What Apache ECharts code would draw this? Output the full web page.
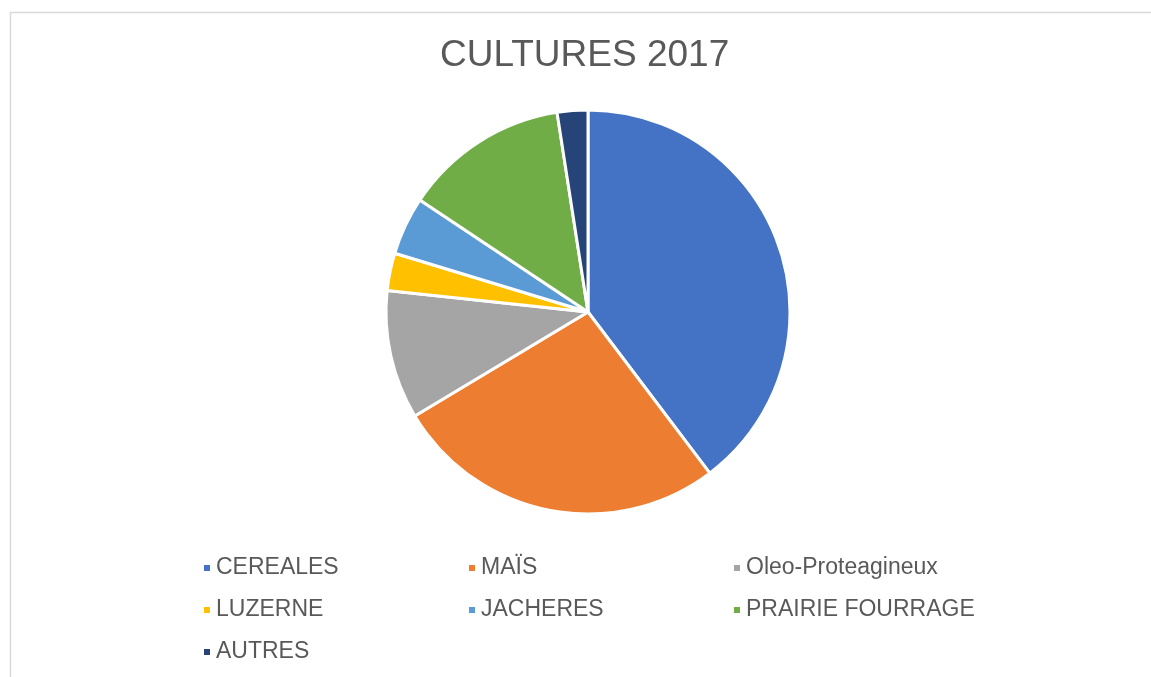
<!DOCTYPE html>
<html>
<head>
<meta charset="utf-8">
<title>CULTURES 2017</title>
<script src="https://cdn.jsdelivr.net/npm/echarts@6/dist/echarts.min.js"></script>
<style>
  html, body { margin: 0; padding: 0; background: #fff; }
  #chart { width: 1151px; height: 677px; }
</style>
</head>
<body>
<div id="chart"></div>
<script>
// parts du camembert, en %
var categories = ['CEREALES', 'MAÏS', 'Oleo-Proteagineux', 'LUZERNE', 'JACHERES', 'PRAIRIE FOURRAGE', 'AUTRES'];
var values = [39.7, 26.7, 10.3, 3.0, 4.65, 13.2, 2.45];
var colors = ['#4472C4', '#ED7D31', '#A5A5A5', '#FFC000', '#5B9BD5', '#70AD47', '#264478'];

var chartDom = document.getElementById('chart');
var myChart = echarts.init(chartDom);

var pieData = categories.map(function (name, i) {
  return { name: name, value: values[i] };
});

var option = {
  animation: false,
  color: colors,
  title: {
    text: 'CULTURES 2017',
    left: 440,
    top: 37,
    padding: 0,
    textStyle: {
      color: '#595959',
      fontFamily: 'Liberation Sans, Arial, sans-serif',
      fontWeight: 'normal',
      fontSize: 37
    }
  },
  // cadre gris clair du graphique
  graphic: [
    {
      type: 'rect',
      shape: { x: 10.5, y: 12.5, width: 1300, height: 800 },
      style: { fill: 'none', stroke: '#d9d9d9', lineWidth: 1.5 },
      silent: true
    }
  ],
  legend: {
    left: 202,
    top: 547,
    width: 820,
    padding: 0,
    itemWidth: 8,
    itemHeight: 8,
    itemGap: 0,
    icon: 'rect',
    data: categories,
    textStyle: {
      color: '#595959',
      fontFamily: 'Liberation Sans, Arial, sans-serif',
      fontSize: 23,
      width: 251,
      lineHeight: 42
    }
  },
  series: [
    {
      name: 'CULTURES 2017',
      type: 'pie',
      center: [588, 312],
      radius: 202,
      startAngle: 90,
      clockwise: true,
      label: { show: false },
      labelLine: { show: false },
      itemStyle: {
        borderColor: '#ffffff',
        borderWidth: 3
      },
      data: pieData
    }
  ]
};
myChart.setOption(option);
</script>
</body>
</html>
